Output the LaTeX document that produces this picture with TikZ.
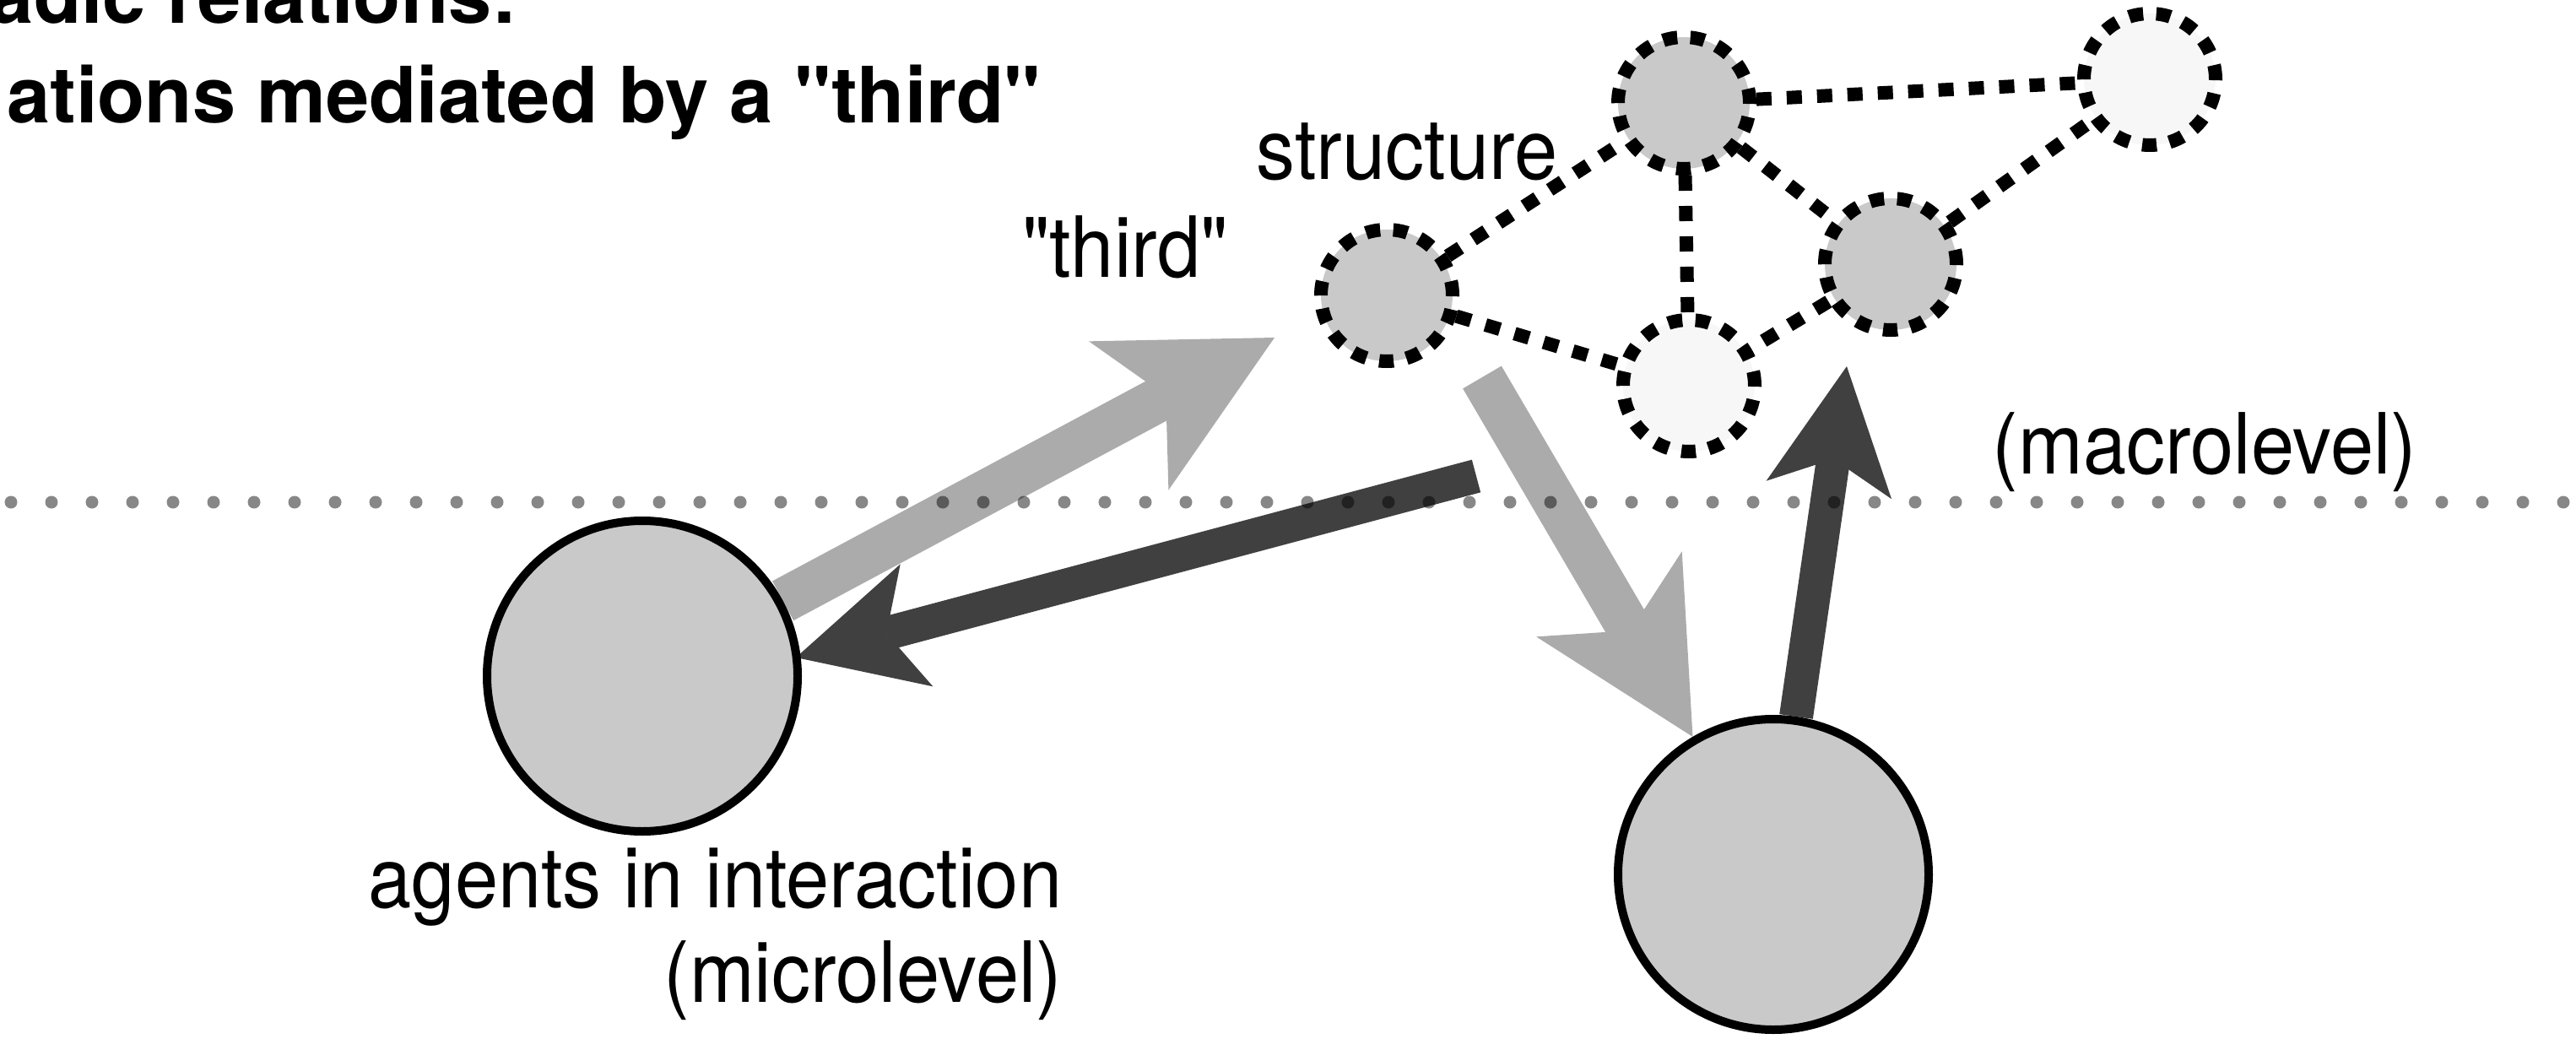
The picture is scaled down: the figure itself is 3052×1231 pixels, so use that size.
\documentclass[tikz,border=0pt]{standalone}
\usepackage{fontspec}
\setmainfont{TeX Gyre Heros}
\newfontfamily\labfont{TeX Gyre Heros}[FakeStretch=0.92]
\newfontfamily\titlefont{TeX Gyre Heros}
\usetikzlibrary{arrows.meta}
\definecolor{gfill}{RGB}{201,201,201}
\definecolor{lfill}{RGB}{247,247,247}
\definecolor{larrow}{RGB}{171,171,171}
\definecolor{darrow}{RGB}{64,64,64}
\pgfdeclarelayer{bg}
\pgfsetlayers{bg,main}
\begin{document}
\begin{tikzpicture}[x=0.25pt,y=-0.25pt,
  bigcirc/.style={circle, draw=black, line width=2.5pt, fill=gfill, minimum size=92pt, inner sep=0pt},
  smallnode/.style={circle, draw=black, line width=4pt, dash pattern=on 4.25pt off 3.9pt, minimum size=39pt, inner sep=0pt},
  gnode/.style={smallnode, fill=gfill},
  wnode/.style={smallnode, fill=lfill},
  link/.style={draw=black, line width=4pt, dash pattern=on 4.5pt off 4.5pt},
  lightarrow/.style={draw=larrow, line width=13.25pt, -{Stealth[length=49pt, width=50pt, inset=12.5pt, line width=0pt]}},
  darkarrow/.style={draw=darrow, line width=10pt, -{Stealth[length=37pt, width=37.5pt, inset=9.25pt, line width=0pt]}},
  lab/.style={font=\labfont\fontsize{25pt}{30pt}\selectfont, inner sep=0pt},
  titletext/.style={font=\titlefont\bfseries\fontsize{23pt}{28pt}\selectfont, inner sep=0pt, anchor=base east},
  dot/.style={fill=black, fill opacity=0.47}
]
\useasboundingbox (0,0) rectangle (3052,1231);

% title
\node[titletext] (title1) at (614,27) {adic relations:};
\node[titletext] (title2) at (1234,145) {ations mediated by a "third"};

% structure nodes
\node[gnode] (N1) at (1643,350) {};
\node[gnode] (N2) at (1995,122) {};
\node[wnode] (N3) at (2547,94) {};
\node[gnode] (N4) at (2240,313) {};
\node[wnode] (N5) at (2001,457) {};

\draw[link] (N1) -- (N2);
\draw[link] (N1) -- (N5);
\draw[link] (N2) -- (N3);
\draw[link] (N2) -- (N4);
\draw[link] (N2) -- (N5);
\draw[link] (N4) -- (N5);
\draw[link] (N4) -- (N3);

% agents
\node[bigcirc] (A) at (761,801) {};
\node[bigcirc] (B) at (2101,1036) {};

% arrow end points
\coordinate (t1) at (1510,400);
\coordinate (d1s) at (1749,564);
\coordinate (d1t) at (943,779);
\coordinate (l2s) at (1756,447);
\coordinate (t4) at (2188,434);

\begin{pgfonlayer}{bg}
\draw[lightarrow] (A) -- (t1);
\draw[darkarrow] (d1s) -- (d1t);
\draw[lightarrow] (l2s) -- (B);
\draw[darkarrow] (B) -- (t4);
\end{pgfonlayer}

% labels
\node[lab, anchor=base] (lstruct) at (1667,212) {structure};
\node[lab, anchor=base] (lthird) at (1333,328) {"third"};
\node[lab, anchor=base] (lmacro) at (2612,561) {(macrolevel)};
\node[lab, anchor=base east] (lagents) at (1259,1075) {agents in interaction};
\node[lab, anchor=base east] (lmicro) at (1259,1187) {(microlevel)};

% dotted level line
\foreach \i in {0,...,63} \fill[dot] ({13+48*\i},595) circle[radius=7.5];
\end{tikzpicture}
\end{document}
